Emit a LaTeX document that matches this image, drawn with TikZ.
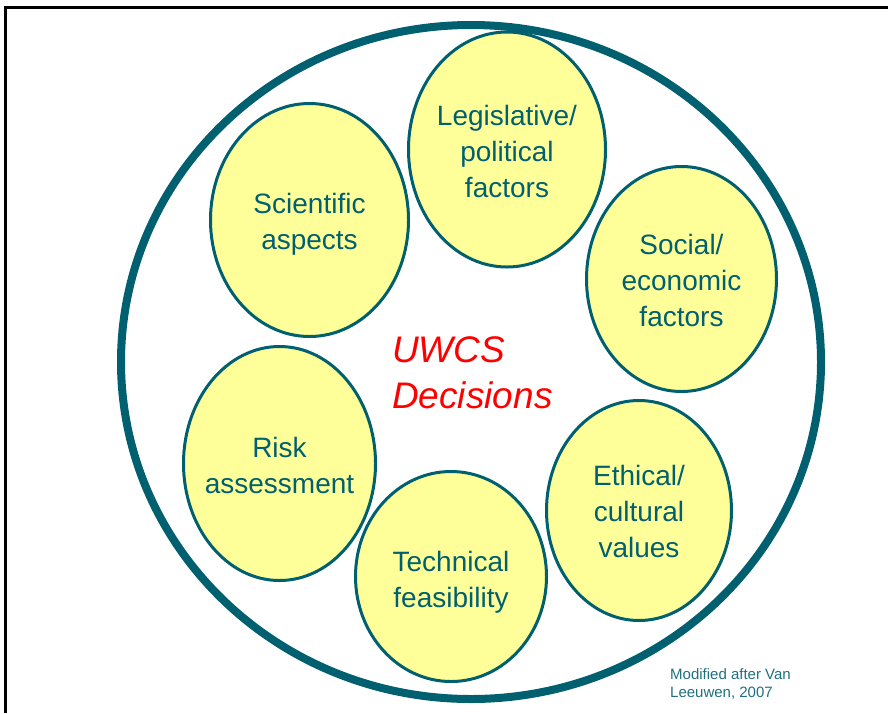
\documentclass[tikz,border=0pt]{standalone}
\usepackage{fontspec}
\setmainfont{Liberation Sans}
\usetikzlibrary{shapes.geometric}
\definecolor{ringteal}{RGB}{0,96,112}
\definecolor{bubblefill}{RGB}{255,255,153}
\definecolor{citeteal}{RGB}{30,112,128}
\definecolor{decred}{RGB}{255,0,0}
\tikzset{
  frameline/.style={line width=3pt, draw=black},
  ringshape/.style={ellipse, draw=ringteal, line width=8pt, inner sep=0pt, outer sep=0pt},
  bubble/.style={ellipse, draw=ringteal, fill=bubblefill, line width=3pt, inner sep=0pt, outer sep=0pt},
  bubbletext/.style={text=ringteal, align=center, inner sep=0pt, font=\fontsize{28}{36}\selectfont},
  titletext/.style={text=decred, align=left, inner sep=0pt, font=\fontsize{37}{46}\selectfont\itshape},
  citetext/.style={text=citeteal, align=left, inner sep=0pt, font=\fontsize{15}{18}\selectfont}
}
\begin{document}
\begin{tikzpicture}[x=1pt, y=-1pt]
\useasboundingbox (0,0) rectangle (888,713);
% frame
\coordinate (fTL) at (5.5,7.5);
\coordinate (fTR) at (888,7.5);
\coordinate (fBL) at (5.5,713);
\draw[frameline] (fTR) -- (fTL) -- (fBL);
% big ring
\node[ringshape, minimum width=700pt, minimum height=674pt] (ring) at (471,362) {};
% bubbles
\node[bubble, minimum width=197pt, minimum height=235pt] (leg) at (507,149.5) {};
\node[bubble, minimum width=198pt, minimum height=233pt] (sci) at (309.5,220) {};
\node[bubble, minimum width=190pt, minimum height=225pt] (soc) at (681.5,279) {};
\node[bubble, minimum width=192pt, minimum height=234pt] (risk) at (279.5,463.5) {};
\node[bubble, minimum width=185pt, minimum height=220pt] (eth) at (639,510.5) {};
\node[bubble, minimum width=191pt, minimum height=210pt] (tech) at (451,576.5) {};
% bubble texts
\node[bubbletext, yshift=-2pt] (legT) at (leg.center) {Legislative/\\political\\factors};
\node[bubbletext, yshift=-4pt] (sciT) at (sci.center) {Scientific\\aspects};
\node[bubbletext, yshift=-1pt] (socT) at (soc.center) {Social/\\economic\\factors};
\node[bubbletext, yshift=-2pt] (riskT) at (risk.center) {Risk\\assessment};
\node[bubbletext, yshift=-1pt] (ethT) at (eth.center) {Ethical/\\cultural\\values};
\node[bubbletext, yshift=-6pt] (techT) at (tech.center) {Technical\\feasibility};
% title
\node[titletext, anchor=north west] (title) at (392,336) {UWCS\\Decisions};
% citation
\node[citetext, anchor=north west] (cite) at (670,668) {Modified after Van\\Leeuwen, 2007};
\end{tikzpicture}
\end{document}
